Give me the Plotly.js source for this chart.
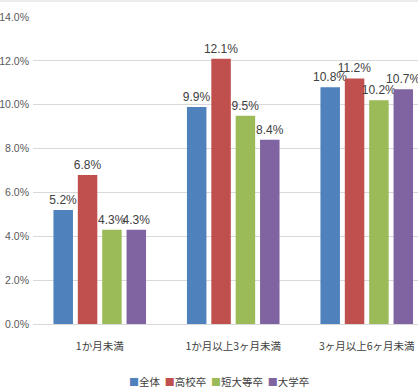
<!DOCTYPE html>
<html><head><meta charset="utf-8">
<script src="https://cdn.plot.ly/plotly-3.0.1.min.js"></script>
<style>html,body{margin:0;padding:0;background:#fff}#chart{width:418px;height:392px}</style>
</head><body><div id="chart"></div>
<script>
const categories = ["1か月未満", "1か月以上3ヶ月未満", "3ヶ月以上6ヶ月未満"];
const seriesNames = ["全体", "高校卒", "短大等卒", "大学卒"];
const zentai = [0.052, 0.099, 0.108];
const koukou = [0.068, 0.121, 0.112];
const tandai = [0.043, 0.095, 0.102];
const daigaku = [0.043, 0.084, 0.107];
const colors = ["#4F81BD", "#C0504D", "#9BBB59", "#8064A2"];
const yTicks = [0, 0.02, 0.04, 0.06, 0.08, 0.10, 0.12, 0.14];

const font = '"Noto Sans CJK JP", sans-serif';
const narrow = '"Liberation Sans", "Noto Sans CJK JP", sans-serif';
const all = [zentai, koukou, tandai, daigaku];
const traces = all.map((vals, i) => ({
  type: 'bar',
  name: seriesNames[i],
  x: categories,
  y: vals,
  marker: {color: colors[i]},
  text: vals.map(v => (v * 100).toFixed(1) + '%'),
  textposition: 'outside',
  constraintext: 'none',
  cliponaxis: false,
  textfont: {family: narrow, size: 12, color: '#404040'},
  hoverinfo: 'none'
}));

const legendText = seriesNames.map((n, i) =>
  '<span style="color:' + colors[i] + ';font-size:10px">■</span>' + n).join('  ');

const layout = {
  width: 418, height: 392,
  margin: {l: 33, r: 0, t: 17, b: 68},
  paper_bgcolor: '#fff', plot_bgcolor: '#fff',
  font: {family: font, color: '#595959', size: 11},
  barmode: 'group',
  bargap: 0.27,
  bargroupgap: 0.2,
  showlegend: false,
  xaxis: {
    range: [-0.5, 2.384],
    showgrid: false, zeroline: false,
    showline: false,
    ticks: '', ticklabelstandoff: 14,
    tickfont: {family: font, size: 10.5, color: '#404040'}
  },
  yaxis: {
    range: [0, 0.14],
    tickvals: yTicks,
    tickformat: '.1%',
    showgrid: true, gridcolor: '#D9D9D9', gridwidth: 1,
    zeroline: true, zerolinecolor: '#D9D9D9', zerolinewidth: 1,
    showline: false, ticks: '', ticklabelstandoff: 3,
    tickfont: {family: narrow, size: 10.5, color: '#595959'}
  },
  annotations: [{
    xref: 'paper', yref: 'paper',
    x: (219 - 33) / 385, y: -57 / 307,
    xanchor: 'center', yanchor: 'middle',
    text: legendText, showarrow: false,
    font: {family: font, size: 10.5, color: '#404040'}
  }],
  shapes: [{
    type: 'line', xref: 'paper', yref: 'paper',
    x0: -33/385, x1: 1, y0: 1 + 16/307, y1: 1 + 16/307,
    line: {color: '#D9D9D9', width: 1}
  }]
};

Plotly.newPlot('chart', traces, layout, {displayModeBar: false, staticPlot: true});
</script></body></html>
